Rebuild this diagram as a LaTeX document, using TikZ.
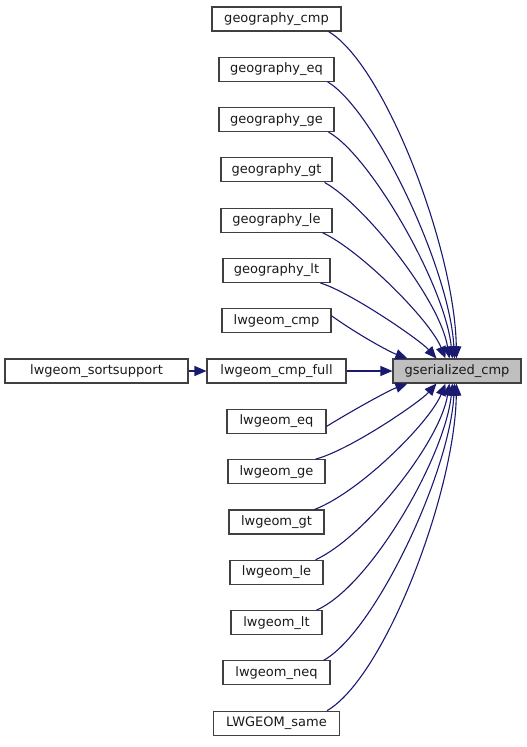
\documentclass[tikz,border=0pt]{standalone}
\usepackage{fontspec}
\setmainfont{DejaVu Sans}
\usetikzlibrary{arrows.meta}
\definecolor{edgeblue}{HTML}{191970}
\definecolor{boxgray}{HTML}{BFBFBF}
\begin{document}
\begin{tikzpicture}[x=1pt,y=-1pt,
  fn/.style={draw=black!75,line width=1.1pt,minimum height=24pt,inner sep=0pt,
    font=\fontsize{13}{15}\selectfont,text=black!90},
  cur/.style={fn,fill=boxgray},
  edge/.style={draw=edgeblue,line width=1.1pt,-{Triangle[length=12pt,width=10pt]}}]
\useasboundingbox (0,0) rectangle (527,747);
\def\cx{276.5}
\node[fn,minimum width=129pt] (n0) at (\cx,19) {geography\_cmp};
\node[fn,minimum width=115pt] (n1) at (\cx,69.3) {geography\_eq};
\node[fn,minimum width=115pt] (n2) at (\cx,119.6) {geography\_ge};
\node[fn,minimum width=111pt] (n3) at (\cx,169.9) {geography\_gt};
\node[fn,minimum width=111pt] (n4) at (\cx,220.2) {geography\_le};
\node[fn,minimum width=107pt] (n5) at (\cx,270.5) {geography\_lt};
\node[fn,minimum width=109pt] (n6) at (\cx,320.8) {lwgeom\_cmp};
\node[fn,minimum width=139pt] (n7) at (\cx,371) {lwgeom\_cmp\_full};
\node[fn,minimum width=99pt] (n8) at (\cx,421.4) {lwgeom\_eq};
\node[fn,minimum width=97pt] (n9) at (\cx,471.7) {lwgeom\_ge};
\node[fn,minimum width=95pt] (n10) at (\cx,522) {lwgeom\_gt};
\node[fn,minimum width=93pt] (n11) at (\cx,572.3) {lwgeom\_le};
\node[fn,minimum width=91pt] (n12) at (\cx,622.6) {lwgeom\_lt};
\node[fn,minimum width=107pt] (n13) at (\cx,672.9) {lwgeom\_neq};
\node[fn,minimum width=126pt] (n14) at (\cx,723.2) {LWGEOM\_same};
\node[fn,minimum width=183pt] (ss) at (96.5,371) {lwgeom\_sortsupport};
\node[cur,minimum width=128pt] (gs) at (457,371) {gserialized\_cmp};
% top edges
\draw[edge] ([xshift=-13pt]n0.south east) .. controls (385,65) and (455,250) .. ([xshift=64pt]gs.north west);
\draw[edge] ([xshift=-7pt]n1.south east) .. controls (375,110) and (450,270) .. ([xshift=62pt]gs.north west);
\draw[edge] ([xshift=-6pt]n2.south east) .. controls (370,155) and (445,285) .. ([xshift=60pt]gs.north west);
\draw[edge] ([xshift=-8pt]n3.south east) .. controls (365,205) and (440,300) .. ([xshift=57pt]gs.north west);
\draw[edge] ([xshift=-10pt]n4.south east) .. controls (360,250) and (430,320) .. ([xshift=53pt]gs.north west);
\draw[edge] ([xshift=-10pt]n5.south east) .. controls (350,292) and (420,340) .. ([xshift=44pt]gs.north west);
\draw[edge] ([yshift=5pt]n6.east) .. controls (360,336) and (390,352) .. ([xshift=15pt]gs.north west);
% middle edges
\draw[edge] (n7.east) -- (gs.west);
\draw[edge] (ss.east) -- (n7.west);
% bottom edges
\draw[edge] ([yshift=-5pt]n8.east) .. controls (360,406) and (390,390) .. ([xshift=15pt]gs.south west);
\draw[edge] ([xshift=-10pt]n9.north east) .. controls (350,450) and (420,402) .. ([xshift=44pt]gs.south west);
\draw[edge] ([xshift=-10pt]n10.north east) .. controls (360,492) and (430,422) .. ([xshift=53pt]gs.south west);
\draw[edge] ([xshift=-8pt]n11.north east) .. controls (365,537) and (440,442) .. ([xshift=57pt]gs.south west);
\draw[edge] ([xshift=-6pt]n12.north east) .. controls (370,587) and (445,457) .. ([xshift=60pt]gs.south west);
\draw[edge] ([xshift=-7pt]n13.north east) .. controls (375,632) and (450,472) .. ([xshift=62pt]gs.south west);
\draw[edge] ([xshift=-13pt]n14.north east) .. controls (385,677) and (455,492) .. ([xshift=64pt]gs.south west);
\end{tikzpicture}
\end{document}
